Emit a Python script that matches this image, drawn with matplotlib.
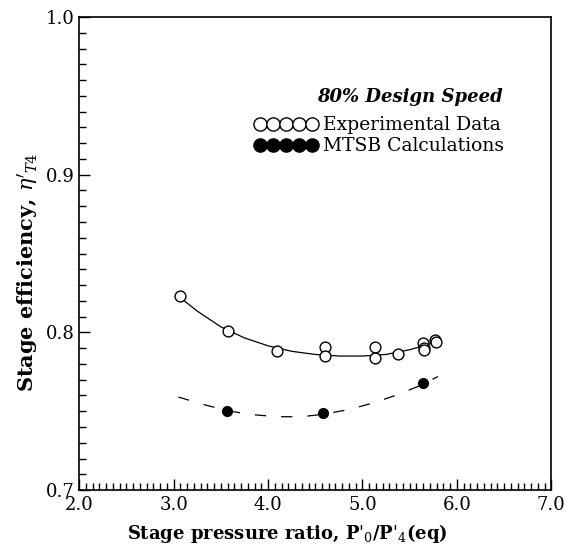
import numpy as np
import matplotlib
matplotlib.use("Agg")
import matplotlib.pyplot as plt
from matplotlib.lines import Line2D
from matplotlib.ticker import MultipleLocator

plt.rcParams['font.family'] = ['DejaVu Serif']
plt.rcParams['mathtext.fontset'] = 'dejavuserif'

# experimental data (open circles)
exp_x = [3.07, 3.58, 4.09, 4.60, 4.60, 5.13, 5.13, 5.38, 5.64, 5.65, 5.65, 5.77, 5.78]
exp_y = [0.823, 0.801, 0.788, 0.791, 0.785, 0.791, 0.784, 0.786, 0.793, 0.790, 0.789, 0.795, 0.794]

# MTSB calculations (filled circles)
calc_x = [3.56, 4.58, 5.64]
calc_y = [0.750, 0.749, 0.768]

# faired curve through experimental data
fit_x = [3.07, 3.25, 3.50, 3.75, 4.00, 4.25, 4.50, 4.75, 5.00, 5.25, 5.50, 5.65, 5.80]
fit_y = [0.822, 0.8135, 0.8035, 0.7965, 0.7915, 0.788, 0.786, 0.785, 0.785, 0.786, 0.789, 0.7915, 0.7945]

# dashed curve through calculations
cfit_x = [3.05, 3.30, 3.56, 3.80, 4.10, 4.35, 4.58, 4.85, 5.10, 5.35, 5.60, 5.80]
cfit_y = [0.759, 0.7545, 0.7505, 0.748, 0.7465, 0.7465, 0.748, 0.751, 0.755, 0.760, 0.766, 0.772]

fig = plt.figure(figsize=(5.66, 5.5), dpi=100)
ax = fig.add_axes([0.14, 0.109, 0.834, 0.86])

ax.plot(fit_x, fit_y, '-', color='black', lw=0.9)
ax.plot(cfit_x, cfit_y, color='black', lw=0.9, dashes=(9, 12))
ax.plot(exp_x, exp_y, 'o', mfc='white', mec='black', ms=7.8, mew=1.0, ls='none')
ax.plot(calc_x, calc_y, 'o', color='black', ms=7, ls='none')

ax.set_xlim(2.0, 7.0)
ax.set_ylim(0.7, 1.0)
ax.xaxis.set_major_locator(MultipleLocator(1.0))
ax.xaxis.set_minor_locator(MultipleLocator(1.0 / 14))
ax.yaxis.set_major_locator(MultipleLocator(0.1))
ax.yaxis.set_minor_locator(MultipleLocator(0.01))
ax.xaxis.set_major_formatter(plt.FormatStrFormatter('%.1f'))
ax.yaxis.set_major_formatter(plt.FormatStrFormatter('%.1f'))
ax.tick_params(which='both', direction='in', top=False, right=False, labelsize=13, width=1.0)
ax.tick_params(which='major', length=8)
ax.tick_params(which='minor', length=5)
ax.tick_params(axis='x', pad=4)
for s in ax.spines.values():
    s.set_linewidth(1.2)

ax.set_xlabel(r"Stage pressure ratio, P$'_0$/P$'_4$(eq)", fontsize=13, fontweight='bold')
ax.xaxis.set_label_coords(0.44, -0.068)
ax.set_ylabel(r"Stage efficiency, $\eta'_{T4}$", fontsize=15, fontweight='bold')
ax.yaxis.set_label_coords(-0.08, 0.46)

handles = [Line2D([], [], marker='o', mfc='white', mec='black', ms=9.5, ls='none'),
           Line2D([], [], marker='o', color='black', ms=9.5, ls='none')]
leg = ax.legend(handles, ['Experimental Data', 'MTSB Calculations'], numpoints=5,
                handlelength=3.4, handletextpad=0.3, labelspacing=0.15, frameon=False,
                fontsize=13.5, loc='upper left', bbox_to_anchor=(0.37, 0.79),
                borderaxespad=0, borderpad=0)
ax.text(0.70, 0.83, '80% Design Speed', transform=ax.transAxes, ha='center', va='center',
        fontsize=13, fontstyle='italic', fontweight='bold')

fig.savefig('out.png', dpi=100)
